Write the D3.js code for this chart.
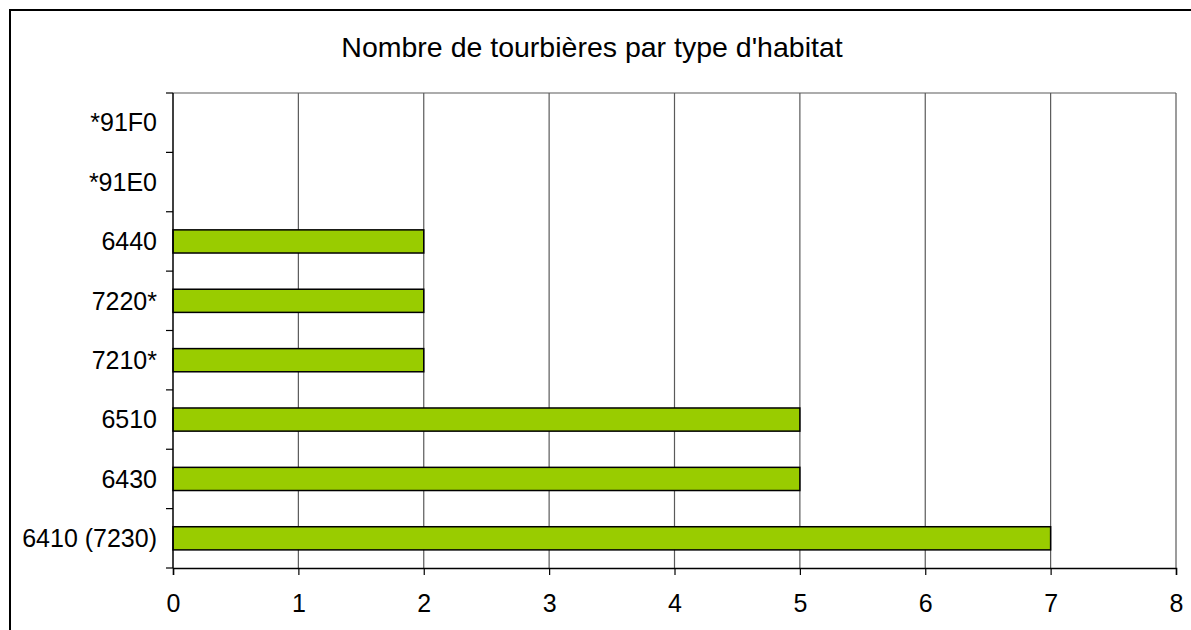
<!DOCTYPE html>
<html>
<head>
<meta charset="utf-8">
<script src="https://cdn.jsdelivr.net/npm/d3@7"></script>
<style>
  body { margin: 0; background: #fff; }
  text { font-family: "Liberation Sans", Arial, sans-serif; fill: #000; }
</style>
</head>
<body>
<svg id="chart" width="1191" height="630"></svg>
<script>
// categories, top to bottom
var habitats = ["*91F0", "*91E0", "6440", "7220*", "7210*", "6510", "6430", "6410 (7230)"];
var counts = [0, 0, 2, 2, 2, 5, 5, 7];
var xTicks = [0, 1, 2, 3, 4, 5, 6, 7, 8];
var title = "Nombre de tourbières par type d'habitat";

var svg = d3.select("#chart"),
  margin = {top: 93, right: 15, bottom: 62, left: 173},
  width = 1191 - margin.left - margin.right,
  height = 630 - margin.top - margin.bottom;

var data = habitats.map(function (h, i) { return {name: h, value: counts[i]}; });

// outer frame (right and bottom edges run off the page)
svg.append("rect")
  .attr("x", 10).attr("y", 10)
  .attr("width", 1300).attr("height", 800)
  .attr("fill", "none")
  .attr("stroke", "#000")
  .attr("stroke-width", 2);

svg.append("text")
  .attr("x", 592)
  .attr("y", 57)
  .attr("text-anchor", "middle")
  .style("font-size", "28.5px")
  .text(title);

var g = svg.append("g").attr("transform", "translate(" + margin.left + "," + margin.top + ")");

var x = d3.scaleLinear().domain([0, 8]).range([0, width]);
var y = d3.scaleBand().domain(habitats).range([0, height]).paddingInner(0.61).paddingOuter(0.305);
var yb = d3.scaleBand().domain(habitats).range([0, height]);

// grid
g.append("g")
  .selectAll("line")
  .data(xTicks.slice(1))
  .enter().append("line")
  .attr("x1", function (d) { return x(d); })
  .attr("x2", function (d) { return x(d); })
  .attr("y1", 0).attr("y2", height)
  .attr("stroke", "#5a5a5a")
  .attr("stroke-width", 1.2);

g.append("line")
  .attr("x1", 0).attr("x2", width)
  .attr("y1", 0).attr("y2", 0)
  .attr("stroke", "#5a5a5a")
  .attr("stroke-width", 1.2);

// bars
g.append("g")
  .selectAll("rect")
  .data(data.filter(function (d) { return d.value > 0; }))
  .enter().append("rect")
  .attr("x", x(0))
  .attr("y", function (d) { return y(d.name); })
  .attr("width", function (d) { return x(d.value) - x(0); })
  .attr("height", y.bandwidth())
  .attr("fill", "#99cc00")
  .attr("stroke", "#000")
  .attr("stroke-width", 1.5);

// x axis
var xAxis = g.append("g")
  .attr("transform", "translate(0," + height + ")")
  .call(d3.axisBottom(x).tickValues(xTicks).tickFormat(d3.format("d")).tickSize(7).tickPadding(19));
xAxis.select(".domain").attr("stroke", "#000").attr("stroke-width", 1.5);
xAxis.selectAll(".tick line").attr("stroke", "#000").attr("stroke-width", 1.2);
xAxis.selectAll("text").style("font-size", "25px").attr("font-family", null).attr("fill", "#000");

// y axis: ticks on band boundaries
var yAxis = g.append("g");
yAxis.append("line")
  .attr("x1", 0).attr("x2", 0)
  .attr("y1", 0).attr("y2", height)
  .attr("stroke", "#000").attr("stroke-width", 1.5);
yAxis.selectAll(".btick")
  .data(habitats.concat([null]))
  .enter().append("line")
  .attr("class", "btick")
  .attr("x1", -7).attr("x2", 0)
  .attr("y1", function (d) { return d === null ? height : yb(d); })
  .attr("y2", function (d) { return d === null ? height : yb(d); })
  .attr("stroke", "#000").attr("stroke-width", 1.2);
yAxis.selectAll(".lbl")
  .data(habitats)
  .enter().append("text")
  .attr("class", "lbl")
  .attr("x", -16)
  .attr("y", function (d) { return yb(d) + yb.bandwidth() / 2; })
  .attr("dy", "0.35em")
  .attr("text-anchor", "end")
  .style("font-size", "25px")
  .text(function (d) { return d; });
</script>
</body>
</html>
